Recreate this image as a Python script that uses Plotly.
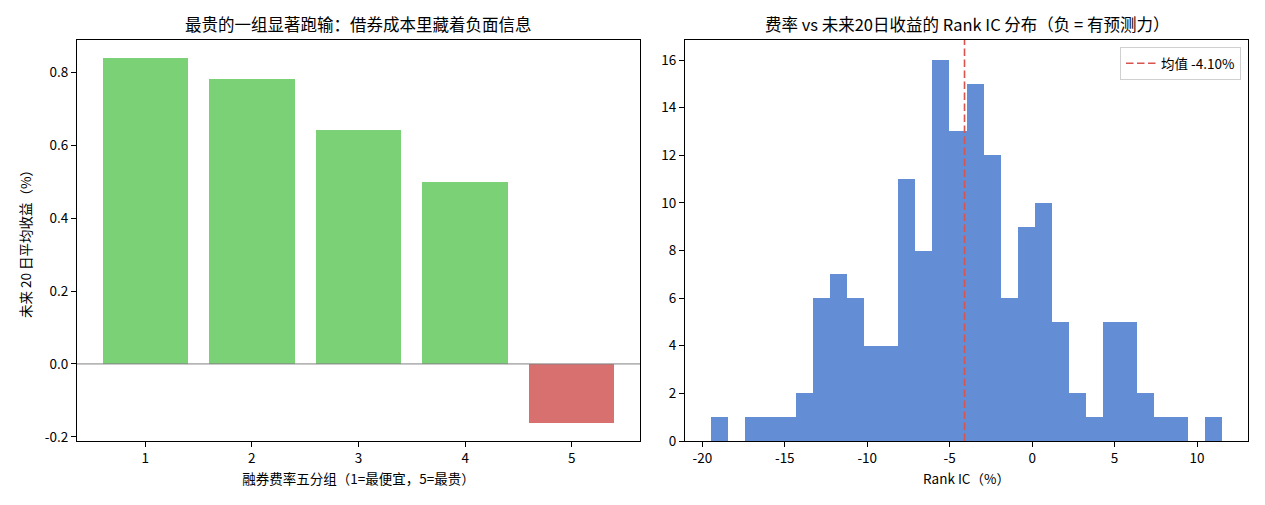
import plotly.graph_objects as go

# ---------------- data ----------------
quintiles = [1, 2, 3, 4, 5]
quintile_returns = [0.839, 0.781, 0.641, 0.498, -0.1615]   # % avg fwd 20d return

hist_bin_start = -19.50
hist_bin_width = 1.0347
hist_counts = [1, 0, 1, 1, 1, 2, 6, 7, 6, 4, 4, 11, 8, 16, 13,
               15, 12, 6, 9, 10, 5, 2, 1, 5, 5, 2, 1, 1, 0, 1]
ic_mean = -4.10

left_yticks = [-0.2, 0.0, 0.2, 0.4, 0.6, 0.8]
left_yticklabels = ["-0.2", "0.0", "0.2", "0.4", "0.6", "0.8"]
right_xticks = [-20, -15, -10, -5, 0, 5, 10]
right_xticklabels = ["-20", "-15", "-10", "-5", "0", "5", "10"]
right_yticks = [0, 2, 4, 6, 8, 10, 12, 14, 16]

# ---------------- styling ----------------
W, H = 1265, 505
FONT = "Noto Sans CJK SC, Lato, sans-serif"
GREEN = "#7bd176"
RED = "#d97070"
BLUE = "#638ed6"
MEANC = "#d9534f"

bar_colors = [GREEN if v >= 0 else RED for v in quintile_returns]
centers = [hist_bin_start + hist_bin_width * (i + 0.5) for i in range(len(hist_counts))]

fig = go.Figure()

fig.add_trace(go.Bar(
    x=quintiles, y=quintile_returns, width=0.8,
    marker=dict(color=bar_colors, line=dict(width=0)),
    xaxis="x", yaxis="y", showlegend=False, hoverinfo="x+y",
))

fig.add_trace(go.Bar(
    x=centers, y=hist_counts, width=hist_bin_width,
    marker=dict(color=BLUE, line=dict(width=0)),
    xaxis="x2", yaxis="y2", showlegend=False,
))

y2_top = max(hist_counts) * 1.0525
fig.add_trace(go.Scatter(
    x=[ic_mean, ic_mean], y=[0, y2_top], mode="lines",
    line=dict(color=MEANC, width=1.6, dash="7.5px,3.5px"),
    name=f"均值 {ic_mean:.2f}%", xaxis="x2", yaxis="y2", showlegend=True,
))

# zero line in left plot
fig.add_shape(type="line", xref="x domain", yref="y", x0=0, x1=1, y0=0, y1=0,
              line=dict(color="#808080", width=1))

# ---------------- axes ----------------
common = dict(showline=True, linecolor="black", linewidth=1.1, mirror=True,
              ticks="outside", ticklen=5, tickwidth=1.1, tickcolor="black",
              showgrid=False, zeroline=False, automargin=False,
              tickfont=dict(family=FONT, size=13.5, color="black"))

lx0, lx1 = 77 / W, 640 / W
rx0, rx1 = 685 / W, 1248 / W
yb, yt = 1 - 441 / H, 1 - 40 / H

dmin, dmax = min(quintile_returns), max(quintile_returns)
pad = (dmax - dmin) * 0.05
fig.update_layout(
    width=W, height=H,
    margin=dict(l=0, r=0, t=0, b=0),
    paper_bgcolor="white", plot_bgcolor="white",
    font=dict(family=FONT, size=13.5, color="black"),
    bargap=0,
    xaxis=dict(domain=[lx0, lx1], range=[0.36, 5.64], tickvals=quintiles,
               title=dict(text="融券费率五分组（1=最便宜，5=最贵）", font=dict(size=13.5), standoff=8),
               anchor="y", **common),
    yaxis=dict(domain=[yb, yt], range=[dmin - pad, dmax + pad],
               tickvals=left_yticks, ticktext=left_yticklabels,
               title=dict(text="未来 20 日平均收益（%）", font=dict(size=13.5), standoff=10),
               anchor="x", **common),
    xaxis2=dict(domain=[rx0, rx1], range=[-21.05, 13.09],
                tickvals=right_xticks, ticktext=right_xticklabels,
                title=dict(text="Rank IC（%）", font=dict(size=13.5), standoff=8),
                anchor="y2", **common),
    yaxis2=dict(domain=[yb, yt], range=[0, y2_top], tickvals=right_yticks,
                anchor="x2", **common),
    legend=dict(x=1241 / W, y=1 - 47 / H, xanchor="right", yanchor="top",
                bgcolor="white", bordercolor="#d0d0d0", borderwidth=1,
                font=dict(family=FONT, size=13.5), itemwidth=30),
    annotations=[
        dict(text="最贵的一组显著跑输：借券成本里藏着负面信息", x=(lx0 + lx1) / 2, y=1 - 24 / H,
             xref="paper", yref="paper", showarrow=False, xanchor="center", yanchor="middle",
             font=dict(family=FONT, size=16.5, color="black")),
        dict(text="费率 vs 未来20日收益的 Rank IC 分布（负 = 有预测力）", x=(rx0 + rx1) / 2, y=1 - 24 / H,
             xref="paper", yref="paper", showarrow=False, xanchor="center", yanchor="middle",
             font=dict(family=FONT, size=16.5, color="black")),
    ],
)

fig.write_html("out.html")
